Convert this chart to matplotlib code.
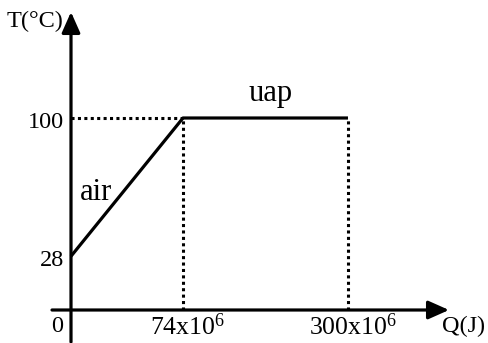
import numpy as np
import matplotlib
matplotlib.use("Agg")
import matplotlib.pyplot as plt

# Data
Q_points = [0, 74e6, 300e6]          # heat (J)
T_points = [28, 100, 100]            # temperature (°C)
Q_ticks = [0, 74e6, 300e6]
Q_tick_labels = ["0", "74x10$^{6}$", "300x10$^{6}$"]
T_ticks = [28, 100]
T_tick_labels = ["28", "100"]
phase_labels = ["air", "uap"]

plt.rcParams["font.family"] = ["Liberation Serif", "DejaVu Serif"]
plt.rcParams["mathtext.default"] = "regular"

# schematic (non-linear) Q axis: piecewise linear
k2 = 1.473
def fwd(q):
    q = np.asarray(q, float)
    return np.where(q < 74e6, q / 74e6, 1 + (q - 74e6) / 226e6 * k2)
def inv(s):
    s = np.asarray(s, float)
    return np.where(s < 1, s * 74e6, 74e6 + (s - 1) / k2 * 226e6)

fig = plt.figure(figsize=(4.88, 3.43), dpi=100)
ax = fig.add_axes([0, 0, 1, 1])
ax.set_xscale("function", functions=(fwd, inv))
px = 112.0
ax.set_xlim(float(inv(-71 / px)), float(inv((488 - 71) / px)))
ax.set_ylim((310 - 343) / 1.92, 310 / 1.92)
ax.axis("off")

lw = 2.3
xl, xr = float(inv(-19 / px)), float(inv((449 - 71) / px))
yb, yt = (310 - 342) / 1.92, (310 - 12) / 1.92

# axes arrows
ax.annotate("", xy=(xr, 0), xytext=(xl, 0),
            arrowprops=dict(arrowstyle="-|>,head_length=0.9,head_width=0.4",
                            lw=lw, color="black", shrinkA=0, shrinkB=0, mutation_scale=14))
ax.annotate("", xy=(0, yt), xytext=(0, yb),
            arrowprops=dict(arrowstyle="-|>,head_length=0.9,head_width=0.4",
                            lw=lw, color="black", shrinkA=0, shrinkB=0, mutation_scale=14))

# dotted guides
dot = dict(color="black", lw=2.2, linestyle=(0, (1, 1.1)), solid_capstyle="butt")
ax.plot([Q_points[0], Q_points[1]], [T_points[1], T_points[1]], **dot)
ax.plot([Q_points[1], Q_points[1]], [0, T_points[1]], **dot)
ax.plot([Q_points[2], Q_points[2]], [0, T_points[2]], **dot)

# heating curve
ax.plot(Q_points, T_points, color="black", lw=lw, solid_capstyle="butt")

fs = 17.5
for t, lab in zip(T_ticks, T_tick_labels):
    ax.text(float(inv(-7 / px)), t - 2.2, lab, ha="right", va="center", fontsize=fs)
for q, lab in zip(Q_ticks, Q_tick_labels):
    xq = float(inv(-14 / px)) if q == 0 else q
    dx = 0 if q == 0 else 5
    ax.text(float(inv((fwd(xq) * px + dx) / px)), -8.8, lab, ha="center", va="center",
            fontsize=fs if q == 0 else 18.5)

ax.text(float(inv(-36 / px)), 150.5, "T(°C)", ha="center", va="center", fontsize=fs)
ax.text(float(inv((464 - 71) / px)), -8.8, "Q(J)", ha="center", va="center", fontsize=fs)
ax.text(float(inv((96 - 71) / px)), 61, phase_labels[0], ha="center", va="center", fontsize=22)
ax.text(float(inv((271 - 71) / px)), 113, phase_labels[1], ha="center", va="center", fontsize=22)

fig.savefig("out.png", dpi=100)
